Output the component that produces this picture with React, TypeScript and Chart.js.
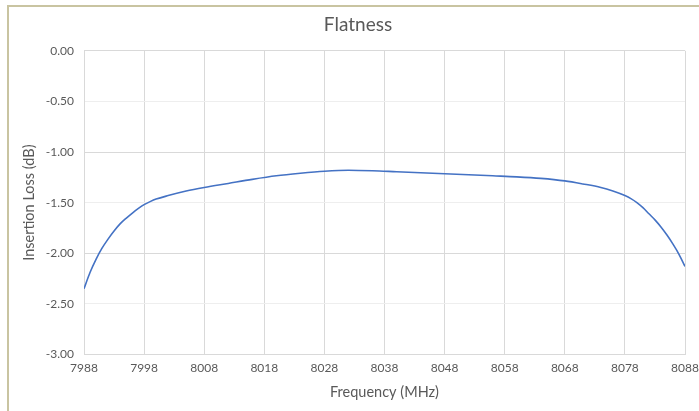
import React, { useEffect, useRef } from "react";
import { Chart, registerables } from "chart.js";

Chart.register(...registerables);

const frequencyMHz = [
  7988, 7989, 7990, 7991, 7992, 7993, 7994, 7995, 7996, 7997, 7998, 7999, 8000, 8002, 8005, 8008,
  8012, 8016, 8020, 8024, 8028, 8032, 8036, 8040, 8044, 8048, 8052, 8056, 8060, 8064, 8068,
  8071, 8074, 8076, 8078, 8079, 8080, 8081, 8082, 8083, 8084, 8085, 8086, 8087, 8088,
];
const insertionLossDb = [
  -2.35, -2.19, -2.06, -1.95, -1.86, -1.78, -1.71, -1.655, -1.605, -1.56, -1.52, -1.49, -1.465, -1.43, -1.385, -1.35,
  -1.31, -1.27, -1.235, -1.21, -1.19, -1.18, -1.185, -1.195, -1.205, -1.215, -1.225, -1.235, -1.245, -1.26, -1.285,
  -1.315, -1.35, -1.385, -1.43, -1.46, -1.5, -1.55, -1.61, -1.67, -1.74, -1.82, -1.91, -2.01, -2.13,
];
const xTickStart = 7988;
const xTickEnd = 8088;
const xTickStep = 10;
const yTickMin = -3;
const yTickMax = 0;
const yTickStep = 0.5;

const chartTitle = "Flatness";
const xTitle = "Frequency (MHz)";
const yTitle = "Insertion Loss (dB)";

const FONT = "Lato, 'Open Sans', sans-serif";
const GRAY = "#595959";

export default function App() {
  const ref = useRef<HTMLCanvasElement | null>(null);

  useEffect(() => {
    if (!ref.current) return;
    const chart = new Chart(ref.current, {
      type: "line",
      data: {
        datasets: [
          {
            data: frequencyMHz.map((f, i) => ({ x: f, y: insertionLossDb[i] })),
            borderColor: "#4472C4",
            borderWidth: 1.6,
            pointRadius: 0,
            fill: false,
            cubicInterpolationMode: "monotone",
          },
        ],
      },
      options: {
        animation: false,
        responsive: false,
        layout: { padding: { left: 8, right: 0, top: 0, bottom: 8 } },
        plugins: {
          legend: { display: false },
          tooltip: { enabled: false },
          title: {
            display: true,
            text: chartTitle,
            color: GRAY,
            font: { family: FONT, size: 19, weight: "normal" },
            padding: { top: 6, bottom: 15 },
          },
        },
        scales: {
          x: {
            type: "linear",
            min: xTickStart,
            max: xTickEnd,
            afterFit: (s: any) => {
              s.height = 48.5;
              s.paddingLeft = 0;
              s.paddingRight = 14;
            },
            ticks: {
              stepSize: xTickStep,
              color: GRAY,
              font: { family: FONT, size: 12 },
              padding: 6,
              maxRotation: 0,
              callback: (v: any) => String(v),
            },
            grid: { color: "#d9d9d9", drawTicks: false, lineWidth: 1 },
            border: { color: "#d9d9d9" },
            title: {
              display: true,
              text: xTitle,
              color: GRAY,
              font: { family: FONT, size: 14.5 },
              padding: 2,
            },
          },
          y: {
            type: "linear",
            min: yTickMin,
            max: yTickMax,
            afterFit: (s: any) => {
              s.width = 67;
            },
            ticks: {
              stepSize: yTickStep,
              color: GRAY,
              font: { family: FONT, size: 12 },
              padding: 10,
              callback: (v: any) => Number(v).toFixed(2),
            },
            grid: {
              color: (ctx: any) =>
                ctx.tick && Math.abs(ctx.tick.value % 1) < 1e-9 ? "#d9d9d9" : "#eeeeee",
              drawTicks: false,
              lineWidth: 1,
            },
            border: { color: "#d9d9d9" },
            title: {
              display: true,
              text: yTitle,
              color: GRAY,
              font: { family: FONT, size: 14.5 },
              padding: 4,
            },
          },
        },
      },
    });
    return () => chart.destroy();
  }, []);

  return (
    <div
      style={{
        position: "fixed",
        left: 0,
        top: 0,
        width: 699,
        height: 411,
        background: "#ffffff",
        overflow: "hidden",
      }}
    >
      <div
        style={{
          position: "absolute",
          left: 7,
          top: 5,
          width: 692,
          height: 406,
          borderLeft: "2px solid #c9c4a1",
          borderTop: "2px solid #c9c4a1",
          boxSizing: "border-box",
        }}
      >
        <canvas ref={ref} width={690} height={404} style={{ width: 690, height: 404, display: "block" }} />
      </div>
    </div>
  );
}
